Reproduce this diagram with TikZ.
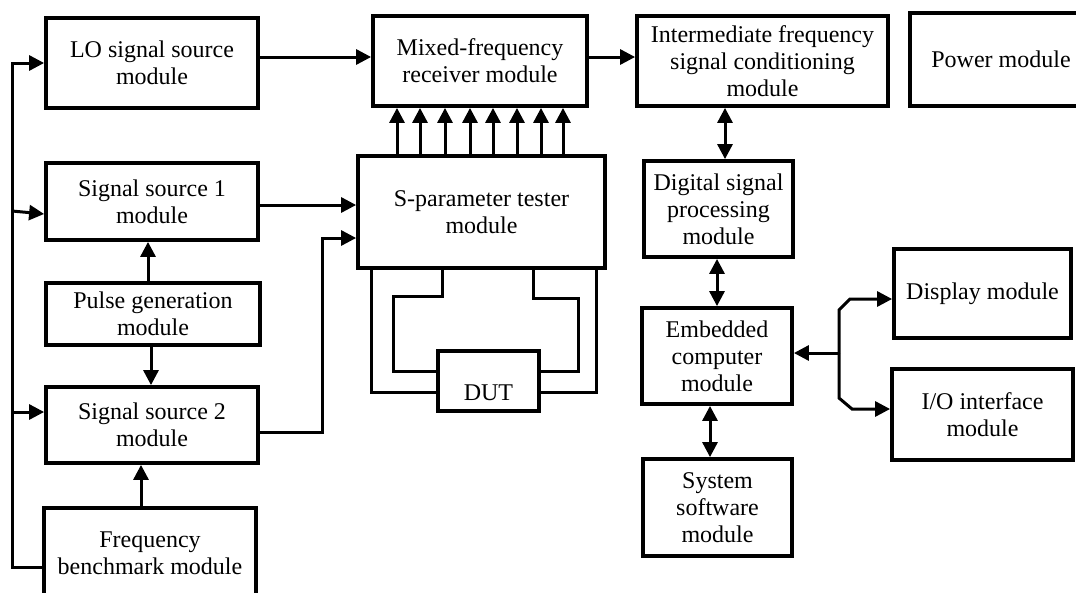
\documentclass[tikz,border=0pt]{standalone}
\usepackage{fontspec}
\setmainfont{Liberation Serif}
\usetikzlibrary{arrows.meta}
\tikzset{
  box/.style={draw, line width=3.8pt, align=center, inner sep=2pt,
    font=\fontsize{24}{27}\selectfont},
  wire/.style={line width=3pt},
  arr/.style={wire, -{Triangle[length=15pt,width=15pt]}},
  darr/.style={wire, {Triangle[length=15pt,width=15pt]}-{Triangle[length=15pt,width=15pt]}}
}
\begin{document}
\begin{tikzpicture}[x=1pt,y=-1pt]
\clip (0,0) rectangle (1076,592);
\fill[white] (0,0) rectangle (1076,592);

% left column
\node[box, minimum width=212pt, minimum height=90pt] (LO) at (152,63) {LO signal source\\module};
\node[box, minimum width=212pt, minimum height=77pt] (SS1) at (152,201.5) {Signal source 1\\module};
\node[box, minimum width=214pt, minimum height=62pt] (PG) at (153,314) {Pulse generation\\module};
\node[box, minimum width=212pt, minimum height=76pt] (SS2) at (152,425) {Signal source 2\\module};
\node[box, minimum width=212pt, minimum height=90pt] (FB) at (150,553) {Frequency\\benchmark module};

% middle
\node[box, minimum width=214pt, minimum height=90pt] (MX) at (480,61) {Mixed-frequency\\receiver module};
\node[box, minimum width=247pt, minimum height=112pt] (SP) at (481.5,212) {S-parameter tester\\module};
\node[box, minimum width=101pt, minimum height=60pt, text height=40pt, text depth=2pt] (DUT) at (488.5,381) {DUT};

% right
\node[box, minimum width=251pt, minimum height=90pt] (IF) at (762.5,61) {Intermediate frequency\\signal conditioning\\module};
\node[box, minimum width=182pt, minimum height=93pt] (PW) at (1001,59.5) {Power module};
\node[box, minimum width=149pt, minimum height=96pt] (DSP) at (718.5,209) {Digital signal\\processing\\module};
\node[box, minimum width=150pt, minimum height=96pt] (EC) at (717,356) {Embedded\\computer\\module};
\node[box, minimum width=149pt, minimum height=97pt] (SW) at (717.5,507.5) {System\\software\\module};
\node[box, minimum width=177pt, minimum height=89pt] (DP) at (982.5,293.5) {Display module};
\node[box, minimum width=181pt, minimum height=91pt] (IO) at (982.5,414.5) {I/O interface\\module};

% left bus
\coordinate (bt) at (12,567);
\coordinate (tp) at (12,63);
\coordinate (b1) at (12,211);
\coordinate (b2) at (12,412);
\draw[arr] ([yshift=-14pt]FB.west) -| (bt) -- (tp) -- (LO.west);
\draw[arr] (b1) -- ([yshift=-12.5pt]SS1.west);
\draw[arr] (b2) -- ([yshift=13pt]SS2.west);

% vertical links in left column
\coordinate (x148) at (148,0);
\coordinate (x151) at (151,0);
\coordinate (x141) at (141,0);
\draw[arr] (PG.north -| x148) -- (SS1.south -| x148);
\draw[arr] (PG.south -| x151) -- (SS2.north -| x151);
\draw[arr] (FB.north -| x141) -- (SS2.south -| x141);

% top row
\draw[arr] ([yshift=6pt]LO.east) -- ([yshift=4pt]MX.west);
\draw[arr] ([yshift=4pt]MX.east) -- ([yshift=4pt]IF.west);

% sources to S-parameter tester
\draw[arr] ([yshift=-3.5pt]SS1.east) -- ([yshift=7pt]SP.west);
\coordinate (k) at (322,238);
\draw[arr] ([yshift=-7pt]SS2.east) -| (k) -- ([yshift=-26pt]SP.west);

% eight arrows up
\foreach \xx in {397,420,445,470,493,517,541,563}{
  \coordinate (c) at (\xx,0);
  \draw[arr] (SP.north -| c) -- (MX.south -| c);
}

% DUT wiring
\coordinate (o1) at (371,0);
\coordinate (i1) at (442,0);
\coordinate (i1b) at (393,296);
\coordinate (i2) at (533,0);
\coordinate (i2b) at (578,298);
\coordinate (o2) at (596,0);
\draw[wire] (SP.south -| o1) |- ([yshift=-11pt]DUT.west);
\draw[wire] (SP.south -| i1) |- (i1b) |- ([yshift=10pt]DUT.west);
\draw[wire] (SP.south -| i2) |- (i2b) |- ([yshift=10pt]DUT.east);
\draw[wire] (SP.south -| o2) |- ([yshift=-11pt]DUT.east);

% right column
\coordinate (x725) at (725,0);
\coordinate (x717) at (717,0);
\coordinate (x710) at (710,0);
\draw[darr] (IF.south -| x725) -- (DSP.north -| x725);
\draw[darr] (DSP.south -| x717) -- (EC.north -| x717);
\draw[darr] (EC.south -| x710) -- (SW.north -| x710);

% fork to display and I/O
\coordinate (j) at (839,353);
\coordinate (f1) at (839,310);
\coordinate (f2) at (850,299);
\coordinate (g1) at (839,398);
\coordinate (g2) at (852,409);
\draw[arr] (j) -- (EC.east |- j);
\draw[arr] (j) -- (f1) -- (f2) -- ([yshift=-5.5pt]DP.west);
\draw[arr] (j) -- (g1) -- (g2) -- ([yshift=5.5pt]IO.west);
\end{tikzpicture}
\end{document}
